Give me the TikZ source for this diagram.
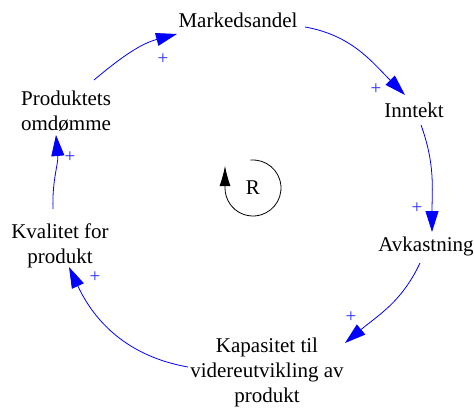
\documentclass[tikz,border=0pt]{standalone}
\usepackage{fontspec}
\setmainfont{Liberation Serif}
\usetikzlibrary{arrows.meta}
\definecolor{linkblue}{RGB}{0,0,255}
\definecolor{signblue}{RGB}{40,40,255}
\begin{document}
\begin{tikzpicture}[x=1pt,y=1pt,
  var/.style={align=center,inner sep=0pt,font=\fontsize{21}{25}\selectfont},
  link/.style={draw=linkblue,line width=0.8pt,-{Triangle[length=21pt,width=13pt]}},
  sign/.style={text=signblue,inner sep=0pt,font=\fontsize{19}{19}\selectfont}]
\useasboundingbox (0,0) rectangle (474,408);
% variables of the loop
\node[var] (mk) at (238,388) {Markedsandel};
\node[var] (in) at (414,298) {Inntekt};
\node[var] (av) at (426,162) {Avkastning};
\node[var] (ka) at (267,36) {Kapasitet til\\videreutvikling av\\produkt};
\node[var] (kv) at (60,162) {Kvalitet for\\produkt};
\node[var] (pr) at (66,297) {Produktets\\omdømme};
% causal links
\draw[link] ([shift={(67,-7)}]mk.center) to[out=-10,in=135] ([shift={(-9,15)}]in.center);
\draw[link] ([shift={(7,-15)}]in.center) to[out=-70,in=90] ([shift={(6,14)}]av.center);
\draw[link] ([shift={(-6,-17)}]av.center) to[out=-115,in=40] ([shift={(78,29)}]ka.center);
\draw[link] ([shift={(-79,5)}]ka.center) to[out=170,in=-65] ([shift={(9,-21)}]kv.center);
\draw[link] ([shift={(-7,37)}]kv.center) to[out=92,in=-85] ([shift={(-10,-24)}]pr.center);
\draw[link] ([shift={(28,31)}]pr.center) to[out=40,in=195] ([shift={(-61,-14)}]mk.center);
% link polarities
\node[sign] (s1) at (376,319) {+};
\node[sign] (s2) at (417,200) {+};
\node[sign] (s3) at (351,91) {+};
\node[sign] (s4) at (95,131) {+};
\node[sign] (s5) at (70,251) {+};
\node[sign] (s6) at (163,349) {+};
% reinforcing loop marker
\node[var] (r) at (253,220) {R};
\draw[line width=0.8pt,-{Latex[length=20pt,width=11pt]}]
  ([shift={(95:28)}]r.center) arc[start angle=95,end angle=-180,radius=28] -- ++(0,22);
\end{tikzpicture}
\end{document}
